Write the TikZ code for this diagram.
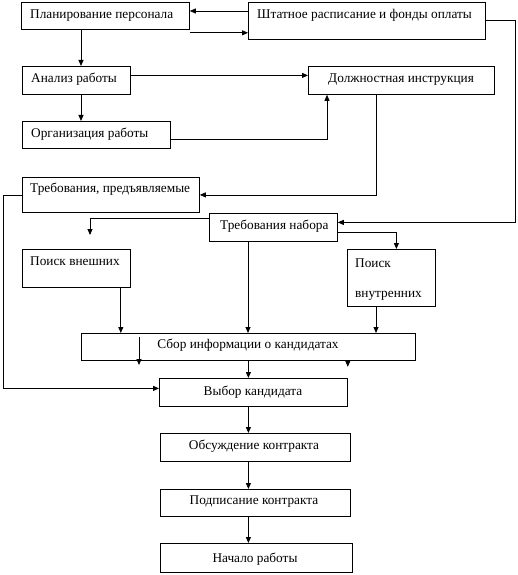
\documentclass[tikz,border=0pt]{standalone}
\usepackage{fontspec}
\setmainfont{Liberation Serif}
\usetikzlibrary{arrows.meta,calc}
\begin{document}
\begin{tikzpicture}[x=1pt,y=-1pt,
  box/.style={draw, line width=0.8pt, inner sep=0pt},
  txt/.style={inner sep=0pt, font=\fontsize{13.3}{15}\selectfont},
  arr/.style={draw, line width=0.8pt, -{Triangle[length=6pt,width=5pt]}},
  ln/.style={draw, line width=0.8pt}]
\useasboundingbox (0,0) rectangle (517,575);
% boxes
\newcommand{\bx}[5]{\node[box, anchor=north west, minimum width=#4pt-#2pt, minimum height=#5pt-#3pt] (#1) at (#2,#3) {};}
\bx{plan}{21}{2}{189}{29}
\bx{shtat}{248}{2}{485}{39}
\bx{anal}{22}{66}{130}{94}
\bx{org}{22}{121}{170}{148}
\bx{dolzh}{308}{66}{494}{94}
\bx{treb}{22}{177}{199}{212}
\bx{nabor}{209}{213}{337}{241}
\bx{vnesh}{22}{249}{130}{287}
\bx{vnutr}{347}{249}{435}{306}
\bx{sbor}{81}{333}{415}{360}
\bx{vybor}{159}{378}{347}{406}
\bx{obsuzh}{160}{433}{350}{461}
\bx{podp}{160}{489}{350}{516}
\bx{nachalo}{160}{543}{352}{572}
% texts
\node[txt, anchor=base west] (t-plan) at (30,19) {Планирование персонала};
\node[txt, anchor=base west] (t-shtat) at (257,19) {Штатное расписание и фонды оплаты};
\node[txt, anchor=base west] (t-anal) at (31,83) {Анализ работы};
\node[txt, anchor=base west] (t-org) at (31,138) {Организация работы};
\node[txt, anchor=base west] (t-dolzh) at (328,83) {Должностная инструкция};
\node[txt, anchor=base west] (t-treb) at (30,192) {Требования, предъявляемые};
\node[txt, anchor=base west] (t-nabor) at (220,229) {Требования набора};
\node[txt, anchor=base west] (t-vnesh) at (30,265) {Поиск внешних};
\node[txt, anchor=base west] (t-vnutr1) at (355,267) {Поиск};
\node[txt, anchor=base west] (t-vnutr2) at (355,297) {внутренних};
\node[txt, anchor=base] (t-sbor) at (248,348) {Сбор информации о кандидатах};
\node[txt, anchor=base] (t-vybor) at (253,395) {Выбор кандидата};
\node[txt, anchor=base] (t-obsuzh) at (254,449) {Обсуждение контракта};
\node[txt, anchor=base] (t-podp) at (254,504) {Подписание контракта};
\node[txt, anchor=base] (t-nachalo) at (255,562) {Начало работы};
% connectors
\draw[arr] ([yshift=-9pt]shtat.north west) -- ([yshift=-9pt]shtat.north west -| plan.east);
\draw[arr] ([yshift=-3pt]plan.south east) -- ([yshift=-3pt]plan.south east -| shtat.west);
\draw[arr] (shtat.east) -- ++(30,0) |- ([yshift=5pt]nabor.east);
\draw[arr] ([xshift=59pt]anal.north west |- plan.south) -- ([xshift=59pt]anal.north west);
\draw[arr] ([xshift=59pt]org.north west |- anal.south) -- ([xshift=59pt]org.north west);
\draw[arr] ([yshift=5pt]anal.east) -- ([yshift=5pt]dolzh.west);
\draw[arr] ([yshift=-4.5pt]org.east) -| ([xshift=19pt]dolzh.south west);
\draw[arr] ([xshift=68pt]dolzh.south west) |- (treb.east);
\draw[arr] (treb.west) -- ++(-19,0) |- ([yshift=4pt]vybor.west);
\coordinate (vneshtip) at (90,235);
\draw[arr] ([yshift=9pt]nabor.west) -| (vneshtip);
\draw[arr] ([yshift=-5pt]nabor.east) -| ([xshift=5pt]vnutr.north);
\draw[arr] ([xshift=-10pt]vnesh.south east) -- ([xshift=-10pt]vnesh.south east |- sbor.north);
\draw[arr] ([xshift=39pt]nabor.south west) -- ([xshift=39pt]nabor.south west |- sbor.north);
\draw[arr] ([xshift=29pt]vnutr.south west) -- ([xshift=29pt]vnutr.south west |- sbor.north);
\draw[arr] ([xshift=58pt,yshift=-4pt]sbor.north west) -- ++(0,28);
\draw[arr] ([xshift=-68pt]sbor.south east) -- ++(0,6);
\draw[arr] (sbor.south) -- (sbor.south |- vybor.north);
\draw[arr] ([xshift=-5pt]vybor.south) -- ([xshift=-5pt]vybor.south |- obsuzh.north);
\draw[arr] ([xshift=-7pt]obsuzh.south) -- ([xshift=-7pt]obsuzh.south |- podp.north);
\draw[arr] ([xshift=-7pt]podp.south) -- ([xshift=-7pt]podp.south |- nachalo.north);
\end{tikzpicture}
\end{document}
